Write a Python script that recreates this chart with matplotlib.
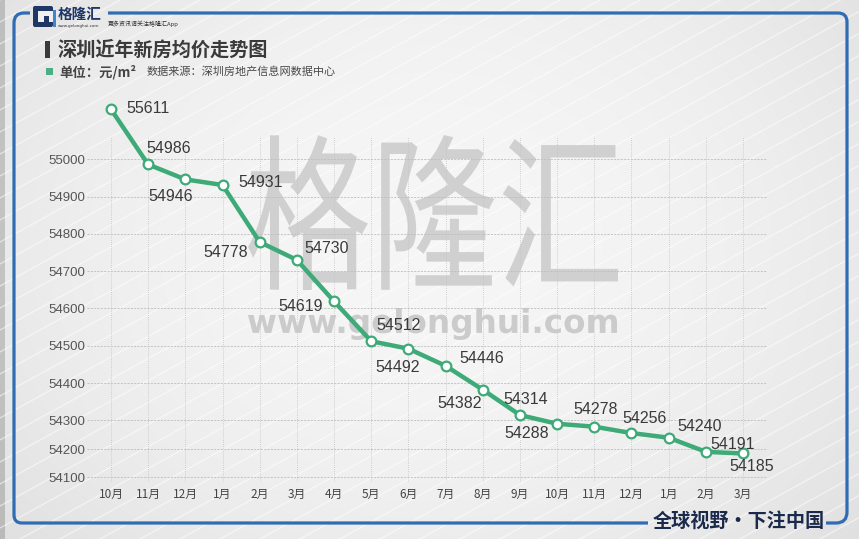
import matplotlib
matplotlib.use("Agg")
import matplotlib.pyplot as plt
import numpy as np
from matplotlib.path import Path
from matplotlib.patches import PathPatch, Rectangle, FancyBboxPatch
from matplotlib.textpath import TextPath
from matplotlib.font_manager import FontProperties
from matplotlib.transforms import Affine2D

CJK = ['Noto Sans CJK SC', 'DejaVu Sans']
plt.rcParams['font.family'] = CJK

# data: monthly average price of new homes in Shenzhen (yuan / m2)
months = ['10月', '11月', '12月', '1月', '2月', '3月', '4月', '5月', '6月',
          '7月', '8月', '9月', '10月', '11月', '12月', '1月', '2月', '3月']
prices = [55611, 54986, 54946, 54931, 54778, 54730, 54619, 54512, 54492,
          54446, 54382, 54314, 54288, 54278, 54256, 54240, 54191, 54185]
yticks = [54100, 54200, 54300, 54400, 54500, 54600, 54700, 54800, 54900, 55000]

# where each value label sits relative to its point (pixels, screen direction)
label_offsets = [(37, -1), (21, -16), (-15, 17), (38, -2), (-34, 10), (30, -11),
                 (-33, 5), (27, -16), (-11, 19), (36, -7), (-23, 14), (6, -16),
                 (-30, 10), (1, -17), (13, -15), (31, -11), (27, -7), (9, 13)]

# the original chart uses a non-uniform value axis; mimic it with a piecewise scale
scale_vals = [54000, 54100, 54200, 54300, 55000, 55611, 56000]
scale_pos = [-27, 0, 28, 57, 318, 368, 400]


def fwd(v):
    return np.interp(v, scale_vals, scale_pos)


def inv(p):
    return np.interp(p, scale_pos, scale_vals)


W, H = 859, 539
fig = plt.figure(figsize=(W / 100, H / 100), dpi=100)

# ---- background / decorations in pixel coordinates
bg = fig.add_axes([0, 0, 1, 1], zorder=0)
bg.set_xlim(0, W)
bg.set_ylim(H, 0)
bg.axis('off')

xx = np.linspace(0, 1, W)
yy = np.linspace(0, 1, H)
X, Y = np.meshgrid(xx, yy)
g = 0.965 - 0.05 * (np.abs(X - 0.5) * 2) ** 2 - 0.03 * (np.abs(Y - 0.45) * 2) ** 2
g[:, :5] -= 0.15
img = np.dstack([g, g, g])
bg.imshow(img, extent=(0, W, H, 0), aspect='auto', zorder=0)

for c in np.arange(0, H + 0.6 * W, 22):
    bg.plot([0, W], [c, c - 0.55 * W], color='white', lw=0.9, alpha=0.55, zorder=1)

# watermark
tp = TextPath((0, 0), '格隆汇', size=100, prop=FontProperties(family='Noto Sans CJK SC'))
ex = tp.get_extents()
tr = Affine2D().translate(-ex.x0, -ex.y0).scale(370 / ex.width, -155 / ex.height).translate(248, 290)
bg.add_patch(PathPatch(tr.transform_path(tp), color='#d0d0d0', lw=0, zorder=2))
tp2 = TextPath((0, 0), 'www.gelonghui.com', size=100,
               prop=FontProperties(family='DejaVu Sans', weight='bold'))
ex2 = tp2.get_extents()
tr2 = Affine2D().translate(-ex2.x0, -ex2.y0).scale(369 / ex2.width, -32 / ex2.height).translate(248, 340)
bg.add_patch(PathPatch(tr2.transform_path(tp2), color='#cbcbcb', lw=0, zorder=2))

# blue frame
blue = '#2f6cb3'
frame_a = Path([(30, 13), (24, 13), (14, 13), (14, 23), (14, 515), (14, 523), (22, 523), (648, 523)],
               [Path.MOVETO, Path.LINETO, Path.CURVE3, Path.CURVE3, Path.LINETO,
                Path.CURVE3, Path.CURVE3, Path.LINETO])
frame_b = Path([(108, 13), (838, 13), (847, 13), (847, 22), (847, 512), (847, 523), (836, 523), (826, 523)],
               [Path.MOVETO, Path.LINETO, Path.CURVE3, Path.CURVE3, Path.LINETO,
                Path.CURVE3, Path.CURVE3, Path.LINETO])
for p in (frame_a, frame_b):
    bg.add_patch(PathPatch(p, fill=False, edgecolor=blue, lw=2.3, zorder=3))

# logo
navy = '#1f3766'
bg.add_patch(FancyBboxPatch((33, 6), 20, 21, boxstyle='round,pad=0,rounding_size=2',
                            fc=navy, ec='none', zorder=4))
bg.add_patch(Rectangle((38, 11), 16, 11, fc='#efefef', ec='none', zorder=5))
bg.add_patch(Rectangle((44, 16), 5, 6, fc=navy, ec='none', zorder=6))
bg.add_patch(Rectangle((53, 10), 3, 17, fc='#3d86d0', ec='none', zorder=6))
bg.text(58, 14, '格隆汇', fontsize=10.5, fontweight='bold', color=navy, va='center', ha='left', zorder=6)
bg.text(58, 25.5, 'www.gelonghui.com', fontsize=3, color='#333333', va='center', ha='left',
        family='DejaVu Sans', zorder=6)
bg.text(108, 24, '更多资讯请关注格隆汇App', fontsize=4.3, color='#333333', va='center', ha='left', zorder=6)

# title and subtitle
bg.add_patch(Rectangle((45, 41), 5, 17, fc='#3a3a3a', ec='none', zorder=4))
bg.text(57, 50, '深圳近年新房均价走势图', fontsize=13.8, fontweight='bold', color='#3a3a3a',
        va='center', ha='left', zorder=4)
bg.add_patch(Rectangle((46, 68), 7, 7, fc='#4cae82', ec='none', zorder=4))
bg.text(59, 72, '单位：元/m²', fontsize=9.6, fontweight='bold', color='#444444',
        va='center', ha='left', zorder=4)
bg.text(147, 72, '数据来源：深圳房地产信息网数据中心', fontsize=8, color='#4a4a4a',
        va='center', ha='left', zorder=4)

# slogan
bg.text(739, 522, '全球视野・下注中国', fontsize=13.8, fontweight='heavy', color='#1b2a4a',
        va='center', ha='center', zorder=4)

# ---- the chart itself
ax = fig.add_axes([87 / W, (H - 482) / H, 680 / W, 345 / H], zorder=1)
ax.set_facecolor('none')
ax.set_yscale('function', functions=(fwd, inv))
x = np.arange(len(months))
ax.set_xlim(-0.645, len(months) - 1 + 0.645)
ax.set_ylim(54082.6, 55272)
ax.set_xticks(x)
ax.set_xticklabels(months)
ax.set_yticks(yticks)
ax.set_yticklabels([str(v) for v in yticks], family='Liberation Sans')
ax.yaxis.set_minor_locator(matplotlib.ticker.NullLocator())
for s in ax.spines.values():
    s.set_visible(False)
ax.tick_params(axis='y', length=0, pad=1.5, labelsize=9.5, labelcolor='#555555')
ax.tick_params(axis='x', length=0, pad=4, labelsize=8.5, labelcolor='#444444')
ax.yaxis.grid(True, color='#bdbdbd', linestyle=(0, (2.5, 1.5)), linewidth=0.6)
ax.xaxis.grid(True, color='#c4c4c4', linestyle=(0, (1, 1.5)), linewidth=0.6)
ax.set_axisbelow(True)

green = '#3daa78'
ax.plot(x, prices, color=green, lw=3.2, marker='o', markersize=7, markerfacecolor='white',
        markeredgecolor=green, markeredgewidth=1.6, clip_on=False, zorder=3,
        solid_capstyle='round', solid_joinstyle='round')

for xi, v, (dx, dy) in zip(x, prices, label_offsets):
    ax.annotate(str(v), (xi, v), xytext=(dx, -dy), textcoords='offset pixels',
                ha='center', va='center', fontsize=11.5, color='#3a3a3a',
                family='Liberation Sans', annotation_clip=False, zorder=4)

fig.savefig('out.png', dpi=100)
